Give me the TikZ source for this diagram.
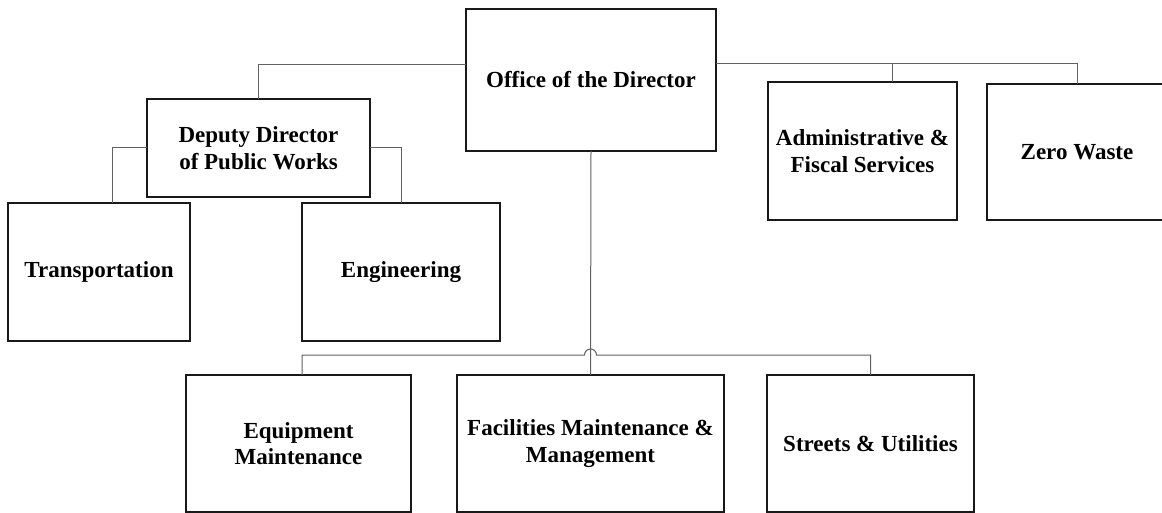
\documentclass[tikz,border=0pt]{standalone}
\usepackage{fontspec}
\setmainfont{Liberation Serif}
\usetikzlibrary{calc}
\begin{document}
\begin{tikzpicture}[x=1pt,y=-1pt,
  orgbox/.style={draw=black!90, line width=1.3pt, fill=white, inner sep=2pt, outer sep=0pt,
    align=center, font=\fontsize{23}{26.5}\selectfont\bfseries},
  link/.style={draw=black!62, line width=1pt}]
\useasboundingbox (0,0) rectangle (1162,513);
\clip (0,0) rectangle (1162,513);
% boxes
\node[orgbox, minimum width=250pt, minimum height=142pt] (office) at (591,80) {Office of the Director};
\node[orgbox, minimum width=223pt, minimum height=98pt] (deputy) at (258.5,148) {Deputy Director\\of Public Works};
\node[orgbox, minimum width=182pt, minimum height=138pt] (trans) at (99,272) {Transportation};
\node[orgbox, minimum width=198pt, minimum height=138pt] (eng) at (401,272) {Engineering};
\node[orgbox, minimum width=189pt, minimum height=138pt] (admin) at (862.5,151) {Administrative \&\\Fiscal Services};
\node[orgbox, minimum width=180pt, minimum height=136pt] (zero) at (1077,152) {Zero Waste};
\node[orgbox, minimum width=225pt, minimum height=137pt] (equip) at (298.5,443.5) {Equipment\\Maintenance};
\node[orgbox, minimum width=267pt, minimum height=137pt] (fac) at (590.5,443.5) {Facilities Maintenance \&\\Management};
\node[orgbox, minimum width=207pt, minimum height=137pt] (streets) at (870.5,443.5) {Streets \& Utilities};
% connectors
\coordinate (offR) at ([yshift=16pt]office.east);
\draw[link] ([yshift=15pt]office.west) -| (deputy.north);
\draw[link] (offR) -| (zero.north);
\draw[link] ([xshift=30pt]admin.north) -- ([xshift=30pt]admin.north |- offR);
\draw[link] (deputy.west) -| ([xshift=13pt]trans.north);
\draw[link] (deputy.east) -| (eng.north);
\draw[link] (office.south) -- (fac.north);
\coordinate (jL) at ([shift={(-6pt,20pt)}]fac.north);
\coordinate (jR) at ([shift={(6pt,20pt)}]fac.north);
\draw[link] ([xshift=3.5pt]equip.north) |- (jL) arc[start angle=180, end angle=0, radius=6pt] -| (streets.north);
\end{tikzpicture}
\end{document}
